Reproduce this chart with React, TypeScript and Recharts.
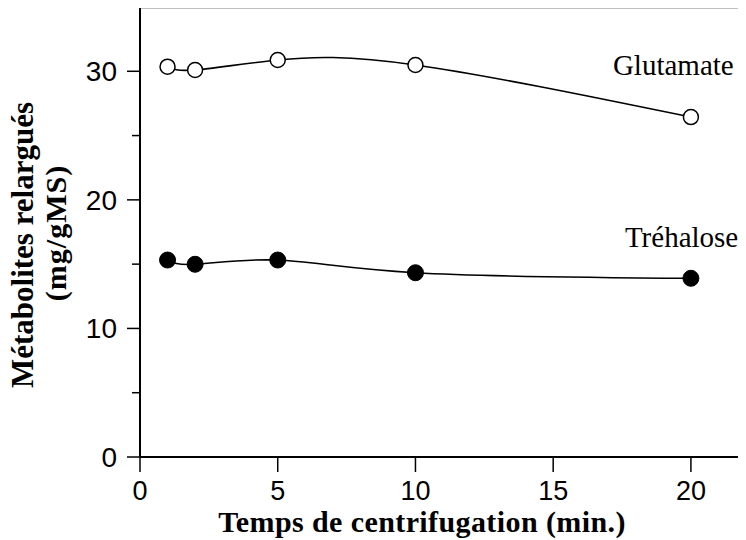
import React from 'react';
import { LineChart, Line, XAxis, YAxis, ReferenceLine, LabelList } from 'recharts';

const times = [1, 2, 5, 10, 20];
const glutamate = [30.36, 30.1, 30.88, 30.49, 26.44];
const trehalose = [15.32, 14.99, 15.32, 14.33, 13.9];
const xTicks = [0, 5, 10, 15, 20];
const yTicks = [0, 5, 10, 15, 20, 25, 30, 35];
const yLabeled = [0, 10, 20, 30];

const data = times.map((t, i) => ({ t, glu: glutamate[i], tre: trehalose[i] }));

const YTick = (props: any) => {
  const { x, y, payload } = props;
  const v = payload.value;
  const major = yLabeled.includes(v);
  return (
    <g>
      <line x1={x - (major ? 13 : 8)} x2={x} y1={y} y2={y} stroke="#000" strokeWidth={1.5} />
      {major && (
        <text x={x - 23} y={y + 10} textAnchor="end" fontFamily="'Liberation Sans', Arial, sans-serif" fontSize={28} fill="#000">
          {v}
        </text>
      )}
    </g>
  );
};

const XTick = (props: any) => {
  const { x, y, payload } = props;
  return (
    <g>
      <line x1={x} x2={x} y1={y} y2={y + 15} stroke="#000" strokeWidth={1.5} />
      <text x={x} y={y + 43} textAnchor="middle" fontFamily="'Liberation Sans', Arial, sans-serif" fontSize={27} fill="#000">
        {payload.value}
      </text>
    </g>
  );
};

const makeLabel = (name: string, dx: number, dy: number) => (p: any) => {
  if (p.index !== times.length - 1) return null;
  return (
    <text x={p.x + dx} y={p.y + dy} textAnchor="start" fontFamily="'Liberation Serif', 'Times New Roman', serif" fontSize={29} fill="#000">
      {name}
    </text>
  );
};

const serif = "'Liberation Serif', 'Times New Roman', serif";

export default function App() {
  return (
    <div style={{ position: 'relative', left: -8, top: -8, width: 746, height: 540 }}>
      <LineChart width={746} height={540} data={data} margin={{ top: 7, right: 0, left: 80, bottom: 23 }}>
        <XAxis
          dataKey="t"
          type="number"
          domain={[0, 22]}
          ticks={xTicks}
          allowDataOverflow
          height={60}
          axisLine={{ stroke: '#000', strokeWidth: 2 }}
          tickLine={false}
          tickSize={0}
          tickMargin={0}
          tick={<XTick />}
          interval={0}
        />
        <YAxis
          type="number"
          domain={[0, 35]}
          ticks={yTicks}
          width={60}
          axisLine={{ stroke: '#000', strokeWidth: 2 }}
          tickLine={false}
          tickSize={0}
          tickMargin={0}
          tick={<YTick />}
          interval={0}
        />
        <ReferenceLine y={35} stroke="#000" strokeWidth={2.5} />
        <Line
          type="natural"
          dataKey="glu"
          stroke="#000"
          strokeWidth={1.6}
          isAnimationActive={false}
          dot={{ r: 7.5, fill: '#fff', stroke: '#000', strokeWidth: 1.5 }}
        >
          <LabelList dataKey="glu" content={makeLabel('Glutamate', -78, -42)} />
        </Line>
        <Line
          type="natural"
          dataKey="tre"
          stroke="#000"
          strokeWidth={1.6}
          isAnimationActive={false}
          dot={{ r: 8, fill: '#000', stroke: '#000', strokeWidth: 1 }}
        >
          <LabelList dataKey="tre" content={makeLabel('Tréhalose', -66, -31)} />
        </Line>
        <text x={422} y={532} textAnchor="middle" fontFamily={serif} fontWeight="bold" fontSize={30} letterSpacing={0.4} fill="#000">
          Temps de centrifugation (min.)
        </text>
        <text x={33} y={245} transform="rotate(-90, 33, 245)" textAnchor="middle" fontFamily={serif} fontWeight="bold" fontSize={31} fill="#000">
          Métabolites relargués
        </text>
        <text x={66} y={233} transform="rotate(-90, 66, 233)" textAnchor="middle" fontFamily={serif} fontWeight="bold" fontSize={30} letterSpacing={1} fill="#000">
          (mg/gMS)
        </text>
      </LineChart>
    </div>
  );
}
